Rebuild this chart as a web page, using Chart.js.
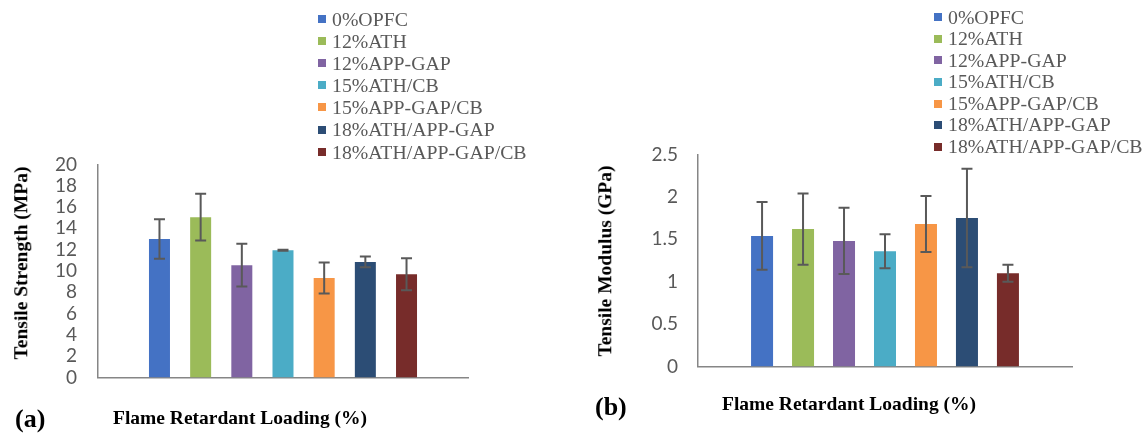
<!DOCTYPE html>
<html lang="en">
<head>
  <meta charset="UTF-8" />
  <title>Tensile properties - flame retardant loading</title>
  <script src="https://cdn.jsdelivr.net/npm/chart.js"></script>
  <style>
    body { margin: 0; background: #fff; width: 1146px; height: 436px; position: relative; overflow: hidden; }
    canvas { position: absolute; }
    .txt { position: absolute; font-family: "Liberation Serif", "Times New Roman", serif; line-height: 1; white-space: nowrap; }
    .bold { font-weight: bold; color: #000; }
    .ytitle { width: 260px; text-align: center; transform: translate(-50%, -50%) rotate(-90deg); font-size: 19.5px; }
    .legend { position: absolute; font-family: "Liberation Serif", "Times New Roman", serif; font-size: 19.8px; color: #595959; }
    .legend div { position: relative; white-space: nowrap; }
    .legend span.box { position: absolute; width: 8px; height: 8px; }
  </style>
</head>
<body>
  <canvas id="strengthChart" width="472" height="278" style="left:0; top:132px;"></canvas>
  <canvas id="modulusChart" width="476" height="275" style="left:600px; top:123px;"></canvas>

  <div class="legend" id="legendA" style="left:318px; top:8px; line-height:22.1px;"></div>
  <div class="legend" id="legendB" style="left:934px; top:6.5px; line-height:21.6px;"></div>

  <div class="txt bold ytitle" style="left:20.5px; top:262.5px;">Tensile Strength (MPa)</div>
  <div class="txt bold ytitle" style="left:605px; top:260.5px;">Tensile Modulus (GPa)</div>

  <div class="txt bold" style="left:113px; top:407.7px; font-size:19.5px;">Flame Retardant Loading (%)</div>
  <div class="txt bold" style="left:722px; top:393.7px; font-size:19.5px;">Flame Retardant Loading (%)</div>

  <div class="txt bold" style="left:15px; top:406px; font-size:26px;">(a)</div>
  <div class="txt bold" style="left:595px; top:394px; font-size:26px;">(b)</div>

  <script>
    // series (one bar each, single category)
    const seriesNames = ['0%OPFC', '12%ATH', '12%APP-GAP', '15%ATH/CB', '15%APP-GAP/CB', '18%ATH/APP-GAP', '18%ATH/APP-GAP/CB'];
    const seriesColors = ['#4472C4', '#9BBB59', '#8064A2', '#4BACC6', '#F79646', '#2C4D75', '#772C2A'];

    // (a) tensile strength, MPa
    const strengthMPa = [13.0, 15.05, 10.55, 11.95, 9.35, 10.85, 9.7];
    const strengthErr = [1.85, 2.2, 2.0, 0.05, 1.45, 0.5, 1.5];
    const strengthMax = 20, strengthStep = 2;

    // (b) tensile modulus, GPa
    const modulusGPa = [1.54, 1.62, 1.48, 1.36, 1.68, 1.75, 1.10];
    const modulusErr = [0.40, 0.42, 0.39, 0.20, 0.33, 0.58, 0.10];
    const modulusMax = 2.5, modulusStep = 0.5;

    // error bars drawn from scale pixels
    const errorBars = {
      id: 'errorBars',
      afterDatasetsDraw(chart) {
        const ctx = chart.ctx;
        const y = chart.scales.y;
        ctx.save();
        ctx.strokeStyle = '#595959';
        ctx.lineWidth = 2;
        chart.data.datasets.forEach((ds, i) => {
          const bar = chart.getDatasetMeta(i).data[0];
          const v = ds.data[0], e = ds.err;
          const top = y.getPixelForValue(v + e);
          const bot = y.getPixelForValue(v - e);
          const x = bar.x, w = 5.5;
          ctx.beginPath();
          ctx.moveTo(x, top); ctx.lineTo(x, bot);
          ctx.moveTo(x - w, top); ctx.lineTo(x + w, top);
          ctx.moveTo(x - w, bot); ctx.lineTo(x + w, bot);
          ctx.stroke();
        });
        ctx.restore();
      }
    };

    function makeChart(id, values, errs, maxV, step, tickPad, catPct, barPct) {
      const datasets = seriesNames.map((name, i) => ({
        label: name,
        data: [values[i]],
        err: errs[i],
        backgroundColor: seriesColors[i],
        categoryPercentage: catPct,
        barPercentage: barPct
      }));
      return new Chart(document.getElementById(id), {
        type: 'bar',
        data: { labels: [''], datasets: datasets },
        options: {
          responsive: false,
          animation: false,
          layout: { padding: { top: 0, bottom: 0, left: 0, right: 4 } },
          plugins: { legend: { display: false }, tooltip: { enabled: false } },
          scales: {
            x: {
              ticks: { display: false },
              grid: { display: false, drawTicks: false },
              border: { display: true, color: '#868686', width: 1.5 }
            },
            y: {
              min: 0,
              max: maxV,
              ticks: {
                stepSize: step,
                autoSkip: false,
                padding: tickPad,
                color: '#595959',
                font: { family: 'Lato', size: 19 },
                callback: v => String(Math.round(v * 100) / 100)
              },
              grid: { display: false, drawTicks: false },
              border: { display: true, color: '#868686', width: 1.5 },
              afterFit: s => { s.width = 98; }
            }
          }
        },
        plugins: [errorBars]
      });
    }

    makeChart('strengthChart', strengthMPa, strengthErr, strengthMax, strengthStep, 21, 0.779, 0.51);
    makeChart('modulusChart', modulusGPa, modulusErr, modulusMax, modulusStep, 20, 0.767, 0.537);

    // legends as vertical lists
    function buildLegend(id) {
      const el = document.getElementById(id);
      seriesNames.forEach((name, i) => {
        const row = document.createElement('div');
        row.style.paddingLeft = '14px';
        row.innerHTML = '<span class="box" style="left:0; top:calc(50% - 4px); background:' + seriesColors[i] + '"></span>' + name;
        el.appendChild(row);
      });
    }
    buildLegend('legendA');
    buildLegend('legendB');
  </script>
</body>
</html>
